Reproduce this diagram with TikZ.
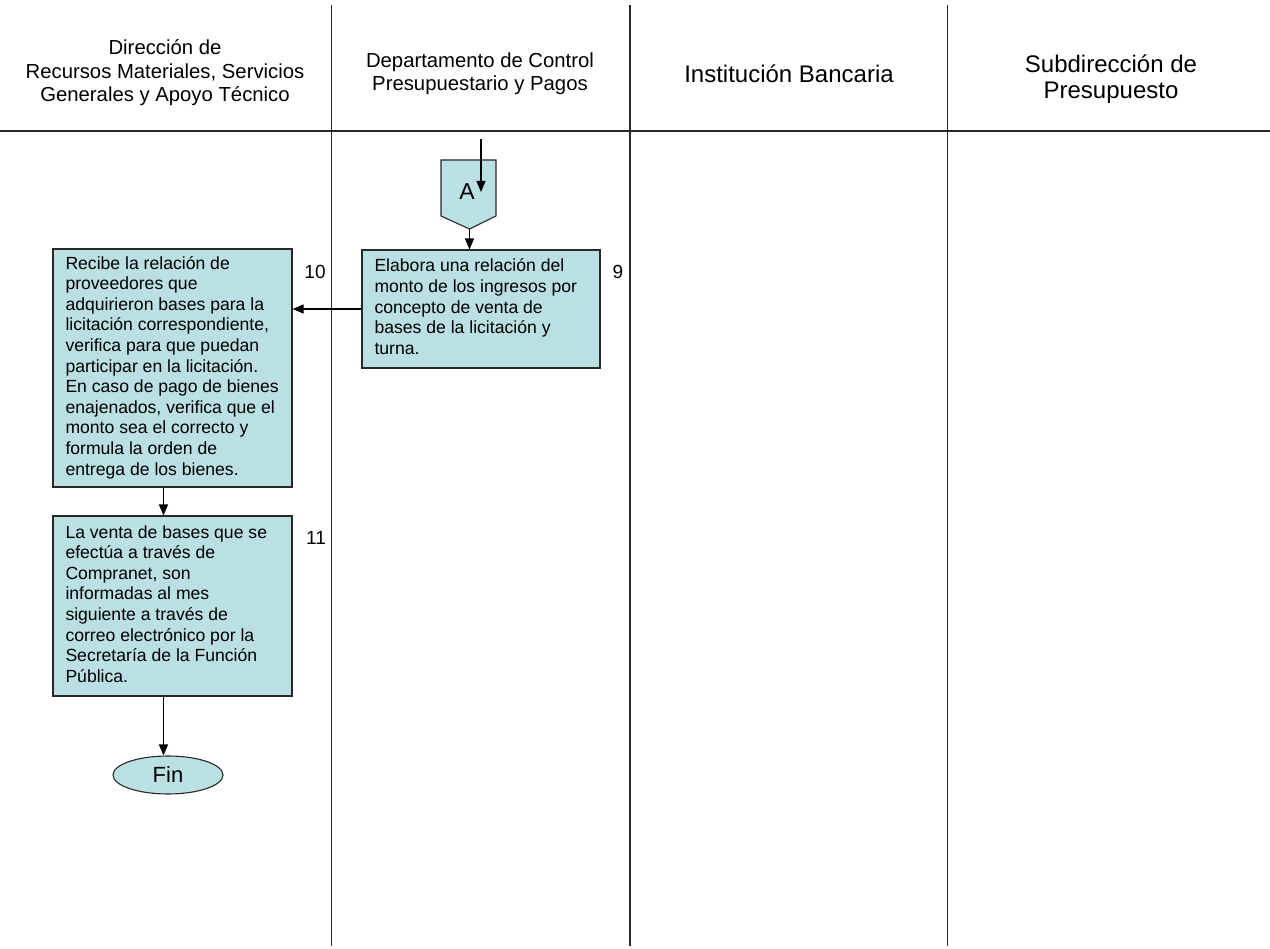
\documentclass[tikz,border=0pt]{standalone}
\usepackage{fontspec}
\setmainfont{Liberation Sans}
\usetikzlibrary{arrows.meta,shapes.geometric}
\definecolor{boxfill}{RGB}{187,224,227}
\definecolor{edge}{RGB}{40,40,40}
% fixed-width block of left-aligned lines that never rebreaks
\newcommand{\steptext}[2]{\makebox[#1][l]{\begin{tabular}{@{}l@{}}#2\end{tabular}}}
\begin{document}
\begin{tikzpicture}[x=1pt,y=-1pt,
  lane/.style={line width=1.3pt,edge},
  hdr/.style={align=center,inner sep=0pt},
  hdrsmall/.style={hdr,font=\fontsize{20.3}{23.5}\selectfont},
  hdrbig/.style={hdr,font=\fontsize{24}{26.5}\selectfont},
  proc/.style={draw=edge,line width=1.1pt,fill=boxfill,rectangle,
    inner xsep=12.5pt,inner ysep=0pt,
    font=\fontsize{17.6}{20.6}\selectfont},
  stepnum/.style={font=\fontsize{19}{22}\selectfont,inner sep=0pt},
  conn/.style={line width=1.2pt,black,-{Triangle[length=11pt,width=9pt]}},
  term/.style={draw=edge,line width=1.1pt,fill=boxfill,ellipse,
    minimum width=110pt,minimum height=38pt,inner sep=0pt,
    font=\fontsize{22}{24}\selectfont}
]
\useasboundingbox (0,0) rectangle (1270,949);
\fill[white] (0,0) rectangle (1270,949);

% swimlane grid
\draw[lane] (0,131) -- (1270,131);
\draw[lane] (331.5,5) -- (331.5,946);
\draw[lane] (630,5) -- (630,946);
\draw[lane] (947.5,5) -- (947.5,946);

% lane headers
\node[hdrsmall] (h1) at (165,73) {Dirección de\\Recursos Materiales, Servicios\\Generales y Apoyo Técnico};
\node[hdrsmall] (h2) at (480,74) {Departamento de Control\\Presupuestario y Pagos};
\node[hdrbig] (h3) at (789,74) {Institución Bancaria};
\node[hdrbig] (h4) at (1111,79) {Subdirección de\\Presupuesto};

% off-page connector A
\coordinate (Ain) at (481,139);
\coordinate (Aout) at (469.5,229);
\filldraw[draw=edge,line width=1.1pt,fill=boxfill]
  (441,160) -- (496,160) -- (496,216) -- (Aout) -- (441,216) -- cycle;
\node[font=\fontsize{23}{26}\selectfont,inner sep=0pt] (A) at (467,192) {A};

% process boxes
\node[proc,minimum height=118pt] (b9) at (481,309)
  {\steptext{213pt}{Elabora una relación del\\monto de los ingresos por\\concepto de venta de\\bases de la licitación y\\turna.}};
\node[proc,minimum height=238pt] (b10) at (172.5,368)
  {\steptext{214pt}{Recibe la relación de\\proveedores que\\adquirieron bases para la\\licitación correspondiente,\\verifica para que puedan\\participar en la licitación.\\En caso de pago de bienes\\enajenados, verifica que el\\monto sea el correcto y\\formula la orden de\\entrega de los bienes.}};
\node[proc,minimum height=180pt] (b11) at (172.5,606)
  {\steptext{214pt}{La venta de bases que se\\efectúa a través de\\Compranet, son\\informadas al mes\\siguiente a través de\\correo electrónico por la\\Secretaría de la Función\\Pública.}};
\node[term] (fin) at (168,775) {Fin};

% step numbers
\node[stepnum] (n9) at (618,272) {9};
\node[stepnum] (n10) at (315,272) {10};
\node[stepnum] (n11) at (316,538) {11};

% connectors
\draw[conn] (Ain) -- (481,192);
\draw[conn] (Aout) -- (Aout |- b9.north);
\draw[conn] (b9.west) -- (b9.west -| b10.east);
\draw[conn] ([xshift=-9pt]b10.south) -- ([xshift=-9pt]b10.south |- b11.north);
\draw[conn] ([xshift=-9pt]b11.south) -- ([xshift=-9pt]b11.south |- fin.north);
\end{tikzpicture}
\end{document}
